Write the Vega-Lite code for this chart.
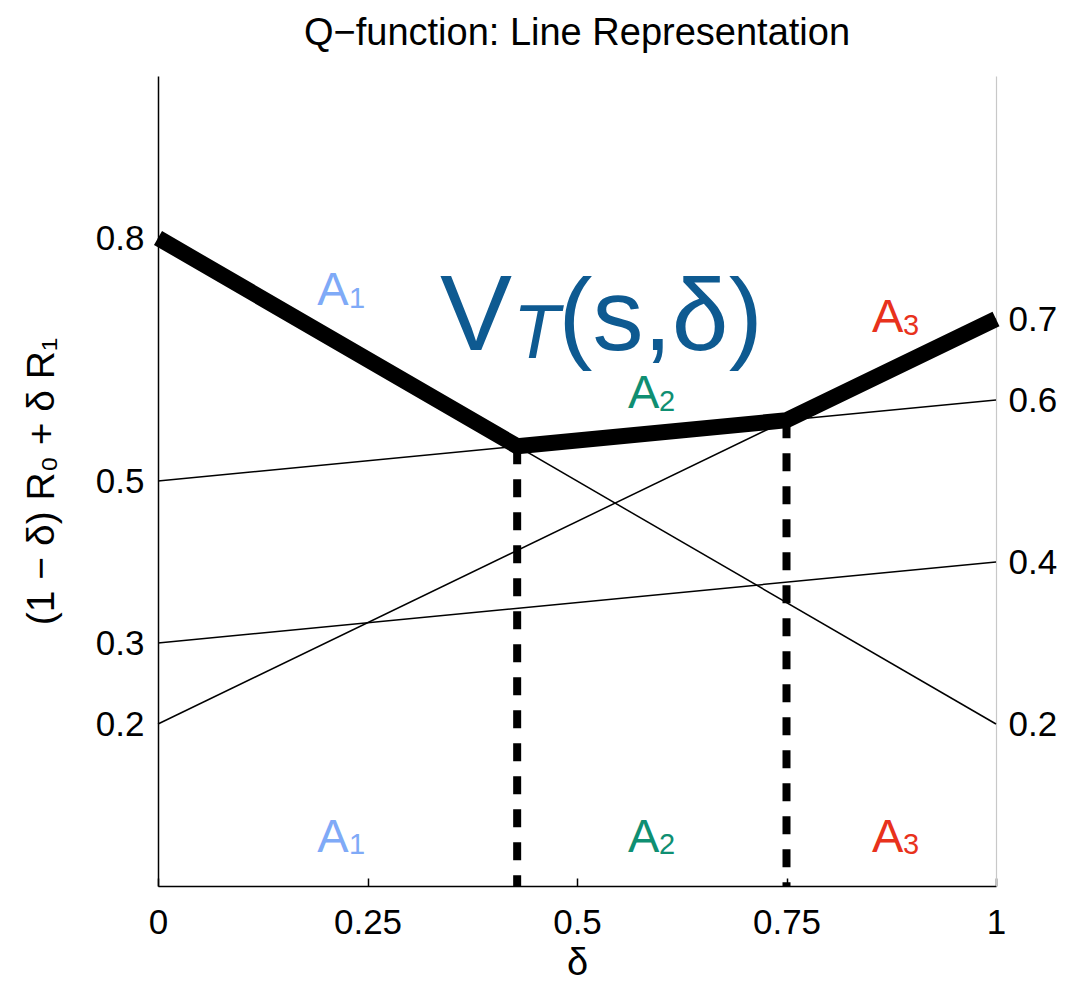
{
  "$schema": "https://vega.github.io/schema/vega-lite/v6.json",
  "width": 838,
  "height": 810,
  "autosize": {"type": "none"},
  "padding": {"left": 158, "top": 76, "right": 72, "bottom": 95},
  "background": "white",
  "title": {
    "text": "Q−function: Line Representation",
    "font": "Liberation Sans",
    "fontSize": 38,
    "fontWeight": "normal",
    "color": "black",
    "baseline": "alphabetic",
    "frame": "group",
    "anchor": "middle",
    "offset": -7
  },
  "config": {
    "view": {"stroke": null},
    "font": "Liberation Sans",
    "axis": {"grid": false, "labelFont": "Liberation Sans", "titleFont": "Liberation Sans", "labelColor": "black", "titleColor": "black", "titleFontWeight": "normal"}
  },
  "datasets": {
    "lines": [
      {"action": "A1", "d": 0, "v": 0.8}, {"action": "A1", "d": 1, "v": 0.2},
      {"action": "A2", "d": 0, "v": 0.5}, {"action": "A2", "d": 1, "v": 0.6},
      {"action": "A3", "d": 0, "v": 0.2}, {"action": "A3", "d": 1, "v": 0.7},
      {"action": "A4", "d": 0, "v": 0.3}, {"action": "A4", "d": 1, "v": 0.4}
    ],
    "envelope": [
      {"d": 0, "v": 0.8}, {"d": 0.4286, "v": 0.5429}, {"d": 0.75, "v": 0.575}, {"d": 1, "v": 0.7}
    ],
    "switches": [
      {"d": 0.4286, "v": 0.5429, "v0": 0}, {"d": 0.75, "v": 0.575, "v0": 0}
    ],
    "labels": [
      {"grp": "A1", "part": "A", "txt": "A", "d": 0.19, "v": 0.717},
      {"grp": "A1", "part": "sub", "txt": "1", "d": 0.228, "v": 0.714},
      {"grp": "A2", "part": "A", "txt": "A", "d": 0.561, "v": 0.590},
      {"grp": "A2", "part": "sub", "txt": "2", "d": 0.598, "v": 0.586},
      {"grp": "A3", "part": "A", "txt": "A", "d": 0.852, "v": 0.684},
      {"grp": "A3", "part": "sub", "txt": "3", "d": 0.889, "v": 0.680},
      {"grp": "A1", "part": "A", "txt": "A", "d": 0.19, "v": 0.042},
      {"grp": "A1", "part": "sub", "txt": "1", "d": 0.228, "v": 0.039},
      {"grp": "A2", "part": "A", "txt": "A", "d": 0.561, "v": 0.042},
      {"grp": "A2", "part": "sub", "txt": "2", "d": 0.598, "v": 0.039},
      {"grp": "A3", "part": "A", "txt": "A", "d": 0.852, "v": 0.042},
      {"grp": "A3", "part": "sub", "txt": "3", "d": 0.889, "v": 0.039}
    ],
    "vt": [
      {"part": "V", "txt": "V", "d": 0.3365, "v": 0.662},
      {"part": "T", "txt": "T", "d": 0.4236, "v": 0.652},
      {"part": "rest", "txt": "(s,δ)", "d": 0.478, "v": 0.662}
    ]
  },
  "layer": [
    {
      "data": {"name": "lines"},
      "mark": {"type": "line", "color": "black", "strokeWidth": 1.5},
      "encoding": {
        "x": {"field": "d", "type": "quantitative", "scale": {"domain": [0, 1]},
          "axis": {"title": "δ", "values": [0, 0.25, 0.5, 0.75, 1], "format": "~g", "labelFontSize": 35, "titleFontSize": 38, "titlePadding": 4, "domainColor": "black", "domainWidth": 1.5, "tickColor": "black", "tickSize": -8, "tickWidth": 1.5, "labelPadding": 27, "labelFlush": false, "labelOverlap": false}},
        "y": {"field": "v", "type": "quantitative", "scale": {"domain": [0, 1]},
          "axis": {"orient": "left", "title": "(1 − δ) R₀ + δ R₁", "values": [0.2, 0.3, 0.5, 0.8], "format": "~g", "ticks": false, "labelPadding": 14, "labelFontSize": 35, "titleFontSize": 39, "titlePadding": 34, "domainColor": "black", "domainWidth": 1.5, "labelFlush": false, "labelOverlap": false}},
        "detail": {"field": "action"}
      }
    },
    {
      "data": {"name": "envelope"},
      "mark": {"type": "line", "color": "black", "strokeWidth": 16, "strokeCap": "butt", "strokeJoin": "miter"},
      "encoding": {
        "x": {"field": "d", "type": "quantitative"},
        "y": {"field": "v", "type": "quantitative",
          "axis": {"orient": "right", "title": null, "values": [0.2, 0.4, 0.6, 0.7], "format": "~g", "ticks": false, "labelPadding": 12, "labelFontSize": 35, "domainColor": "#c8c8c8", "domainWidth": 1.2, "labelFlush": false, "labelOverlap": false}}
      }
    },
    {
      "data": {"name": "switches"},
      "mark": {"type": "rule", "color": "black", "strokeWidth": 8, "strokeDash": [18, 15]},
      "encoding": {
        "x": {"field": "d", "type": "quantitative"},
        "y": {"field": "v", "type": "quantitative", "axis": null},
        "y2": {"field": "v0"}
      }
    },
    {
      "data": {"name": "labels"},
      "transform": [{"filter": "datum.part == 'A'"}],
      "mark": {"type": "text", "align": "left", "baseline": "alphabetic", "fontSize": 47, "font": "Liberation Sans"},
      "encoding": {
        "x": {"field": "d", "type": "quantitative"},
        "y": {"field": "v", "type": "quantitative", "axis": null},
        "text": {"field": "txt"},
        "color": {"field": "grp", "type": "nominal", "scale": {"domain": ["A1", "A2", "A3"], "range": ["#7faaf7", "#0f8f72", "#e8321c"]}, "legend": null}
      }
    },
    {
      "data": {"name": "labels"},
      "transform": [{"filter": "datum.part == 'sub'"}],
      "mark": {"type": "text", "align": "left", "baseline": "alphabetic", "fontSize": 29, "font": "Liberation Sans"},
      "encoding": {
        "x": {"field": "d", "type": "quantitative"},
        "y": {"field": "v", "type": "quantitative", "axis": null},
        "text": {"field": "txt"},
        "color": {"field": "grp", "type": "nominal", "scale": {"domain": ["A1", "A2", "A3"], "range": ["#7faaf7", "#0f8f72", "#e8321c"]}, "legend": null}
      }
    },
    {
      "data": {"name": "vt"},
      "transform": [{"filter": "datum.part == 'V'"}],
      "mark": {"type": "text", "align": "left", "baseline": "alphabetic", "fontSize": 108, "font": "Liberation Sans", "color": "#0e5a91"},
      "encoding": {
        "x": {"field": "d", "type": "quantitative"},
        "y": {"field": "v", "type": "quantitative", "axis": null},
        "text": {"field": "txt"}
      }
    },
    {
      "data": {"name": "vt"},
      "transform": [{"filter": "datum.part == 'T'"}],
      "mark": {"type": "text", "align": "left", "baseline": "alphabetic", "fontSize": 76, "fontStyle": "italic", "font": "Liberation Sans", "color": "#0e5a91"},
      "encoding": {
        "x": {"field": "d", "type": "quantitative"},
        "y": {"field": "v", "type": "quantitative", "axis": null},
        "text": {"field": "txt"}
      }
    },
    {
      "data": {"name": "vt"},
      "transform": [{"filter": "datum.part == 'rest'"}],
      "mark": {"type": "text", "align": "left", "baseline": "alphabetic", "fontSize": 102, "font": "Liberation Sans", "color": "#0e5a91"},
      "encoding": {
        "x": {"field": "d", "type": "quantitative"},
        "y": {"field": "v", "type": "quantitative", "axis": null},
        "text": {"field": "txt"}
      }
    }
  ],
  "resolve": {"axis": {"y": "independent"}}
}
